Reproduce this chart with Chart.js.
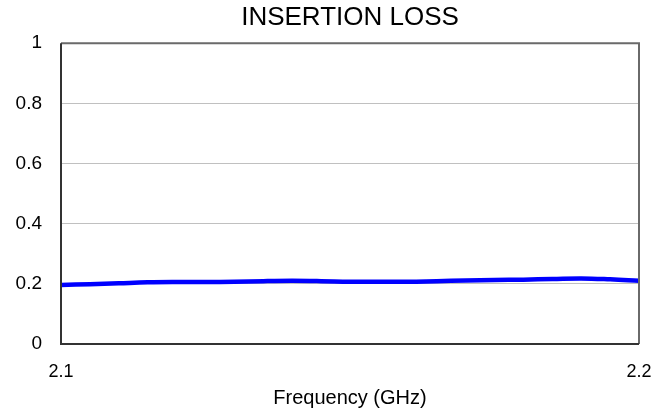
<!DOCTYPE html>
<html>
<head>
<meta charset="utf-8">
<script src="https://cdn.jsdelivr.net/npm/chart.js@4/dist/chart.umd.min.js"></script>
<style>
  html, body { margin: 0; padding: 0; background: #fff; }
  #wrap { width: 665px; height: 417px; }
</style>
</head>
<body>
<div id="wrap"><canvas id="myChart" width="665" height="417"></canvas></div>
<script>
  "use strict";

  // Data
  var frequency = [2.100, 2.105, 2.110, 2.115, 2.120, 2.125, 2.130, 2.135, 2.140, 2.145, 2.150,
                   2.155, 2.160, 2.165, 2.170, 2.175, 2.180, 2.185, 2.190, 2.195, 2.200];
  var insertionLoss = [0.196, 0.199, 0.202, 0.205, 0.206, 0.206, 0.207, 0.209, 0.210, 0.209, 0.207,
                       0.207, 0.207, 0.209, 0.211, 0.213, 0.214, 0.216, 0.218, 0.215, 0.210];
  var xTicks = [2.1, 2.2];
  var yTicks = [0, 0.2, 0.4, 0.6, 0.8, 1];

  var points = frequency.map(function (f, i) {
    return { x: f, y: insertionLoss[i] };
  });

  // Plot frame: dark left/bottom, lighter top/right
  var framePlugin = {
    id: 'frame',
    afterDatasetsDraw: function (chart) {
      var a = chart.chartArea;
      var ctx = chart.ctx;
      ctx.save();
      ctx.lineWidth = 2;
      ctx.strokeStyle = '#6a6a6a';
      ctx.beginPath();
      ctx.moveTo(a.left, a.top);
      ctx.lineTo(a.right, a.top);
      ctx.lineTo(a.right, a.bottom);
      ctx.stroke();
      ctx.strokeStyle = '#333333';
      ctx.beginPath();
      ctx.moveTo(a.left, a.top);
      ctx.lineTo(a.left, a.bottom);
      ctx.lineTo(a.right, a.bottom);
      ctx.stroke();
      ctx.restore();
    }
  };

  var font = 'Arial, "Liberation Sans", sans-serif';

  new Chart(document.getElementById('myChart').getContext('2d'), {
    type: 'line',
    data: {
      datasets: [{
        label: 'Insertion loss',
        data: points,
        borderColor: '#0000ff',
        backgroundColor: '#0000ff',
        borderWidth: 4.5,
        pointRadius: 0,
        tension: 0.4,
        fill: false
      }]
    },
    options: {
      responsive: false,
      animation: false,
      layout: { padding: { left: 0, right: 26, top: 0, bottom: 0 } },
      scales: {
        x: {
          type: 'linear',
          min: 2.1,
          max: 2.2,
          afterBuildTicks: function (scale) {
            scale.ticks = xTicks.map(function (v) { return { value: v }; });
          },
          afterFit: function (scale) {
            scale.height = 73;
            scale.paddingLeft = 0;
            scale.paddingRight = 0;
          },
          grid: { display: false, drawTicks: false },
          border: { display: false },
          ticks: {
            padding: 17,
            color: '#000',
            font: { family: font, size: 18 },
            maxRotation: 0,
            callback: function (v) { return v.toFixed(1); }
          },
          title: {
            display: true,
            text: 'Frequency (GHz)',
            color: '#000',
            font: { family: font, size: 20 },
            padding: { top: 4, bottom: 7 }
          }
        },
        y: {
          min: 0,
          max: 1,
          afterBuildTicks: function (scale) {
            scale.ticks = yTicks.map(function (v) { return { value: v }; });
          },
          afterFit: function (scale) { scale.width = 61; },
          grid: { color: '#c0c0c0', lineWidth: 1, drawTicks: false },
          border: { display: false },
          ticks: {
            padding: 19,
            color: '#000',
            font: { family: font, size: 19 },
            callback: function (v) { return String(v); }
          }
        }
      },
      plugins: {
        legend: { display: false },
        tooltip: { enabled: false },
        title: {
          display: true,
          fullSize: false,
          text: 'INSERTION LOSS',
          color: '#000',
          font: { family: font, size: 26, weight: 'normal' },
          padding: { top: 2, bottom: 10 }
        }
      }
    },
    plugins: [framePlugin]
  });
</script>
</body>
</html>
